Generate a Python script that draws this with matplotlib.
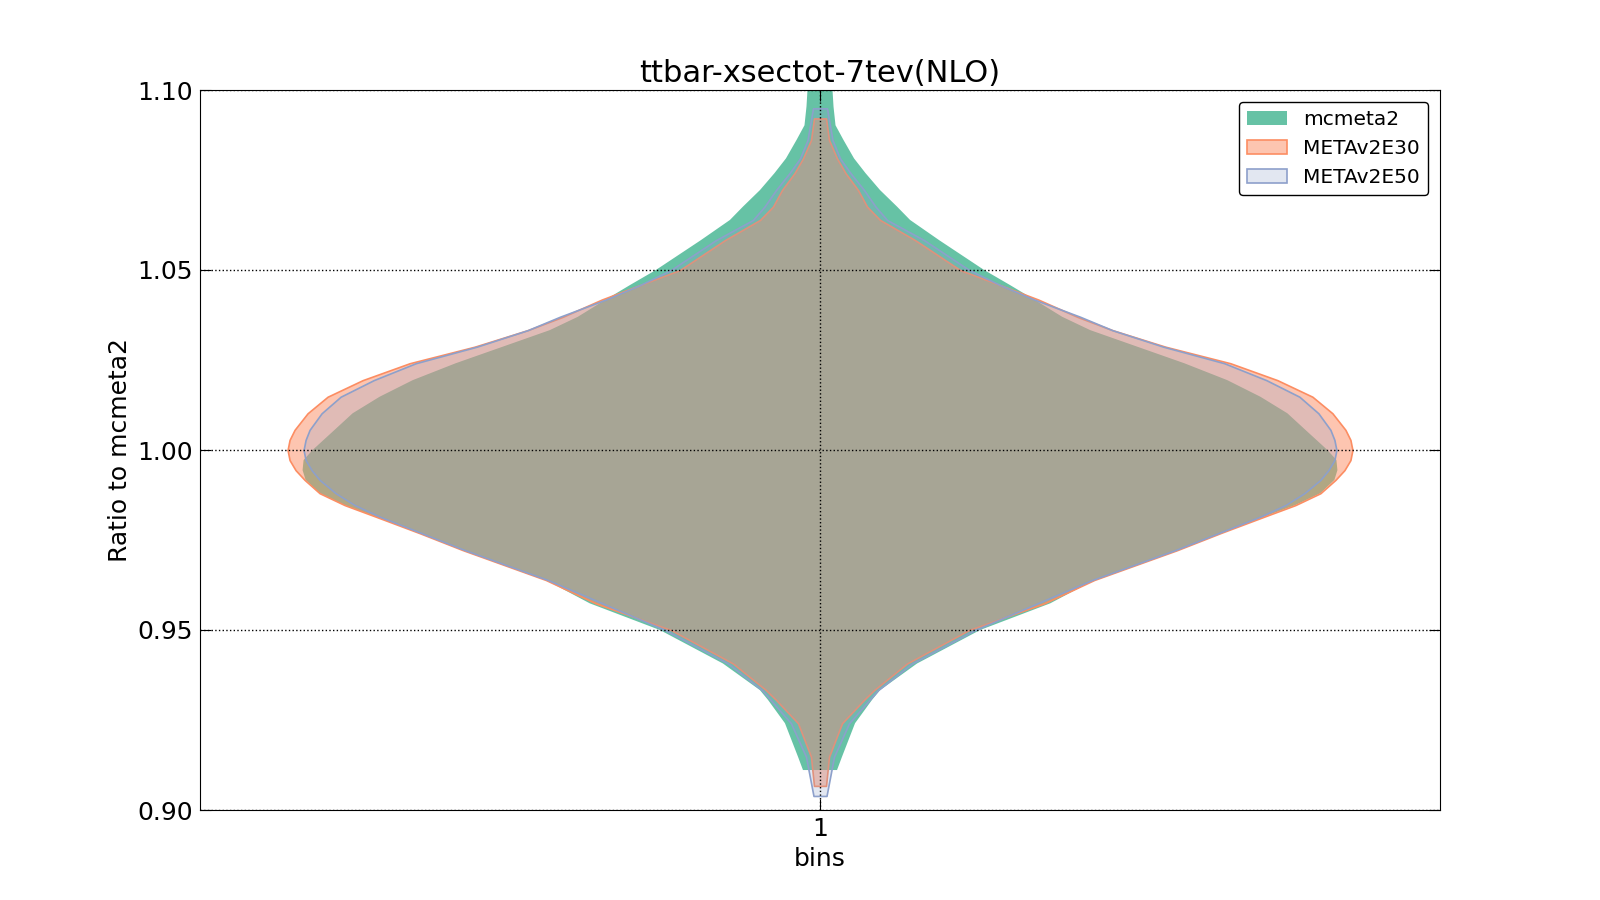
import numpy as np
import matplotlib
matplotlib.use('Agg')
import matplotlib.pyplot as plt
from matplotlib.colors import to_rgba

# violin profiles: y value and relative density
labels = ['mcmeta2', 'METAv2E30', 'METAv2E50']
colors = ['#66c2a5', '#fc8d62', '#8da0cb']

green_y = [0.9111, 0.9148, 0.9241, 0.9306, 0.9333, 0.9407, 0.95, 0.9574, 0.9639, 0.9722,
           0.9769, 0.9815, 0.9847, 0.988, 0.9917, 0.9944, 0.9972, 1.0, 1.0056, 1.0102,
           1.0148, 1.0194, 1.0241, 1.0287, 1.0333, 1.037, 1.0418, 1.0458, 1.05, 1.0583,
           1.0639, 1.0676, 1.0722, 1.0769, 1.081, 1.0861, 1.0902, 1.0954, 1.10, 1.112]
green_d = [17, 22, 35, 52, 60, 97, 160, 230, 274, 357,
           400, 444, 475, 500, 514, 517, 516, 507, 485, 467,
           440, 407, 364, 317, 270, 242, 214, 190, 164, 119,
           90, 77, 60, 45.5, 34, 23.5, 15.5, 13.5, 12.5, 10]

orange_y = [0.9067, 0.9148, 0.9241, 0.9306, 0.9333, 0.9407, 0.95, 0.9574, 0.9639, 0.9722,
            0.9769, 0.9815, 0.9847, 0.988, 0.9917, 0.9944, 0.9972, 1.0, 1.0028, 1.0056,
            1.0102, 1.0148, 1.0194, 1.0241, 1.0287, 1.0333, 1.037, 1.0418, 1.0458, 1.05,
            1.0583, 1.0639, 1.0676, 1.0722, 1.0769, 1.081, 1.0861, 1.0921]
orange_d = [6, 9, 22, 44, 54, 87, 149, 224, 274, 357,
            400, 444, 475, 500, 515, 524, 530, 532, 530, 525,
            512, 492, 457, 410, 345, 292, 257, 218, 180, 140,
            95, 60, 47, 38, 25.5, 17, 9, 6]

blue_y = [0.9039, 0.9148, 0.9241, 0.9333, 0.9407, 0.95, 0.9639, 0.9722, 0.9769, 0.9815,
          0.9847, 0.988, 0.9917, 0.9944, 0.9972, 1.0, 1.0028, 1.0056, 1.0102, 1.0148,
          1.0194, 1.0241, 1.0287, 1.0333, 1.037, 1.0418, 1.0458, 1.05, 1.0583, 1.0639,
          1.0676, 1.0722, 1.0769, 1.081, 1.0861, 1.0949]
blue_d = [6.5, 14, 29, 58, 92, 155, 272, 355, 398, 440,
          465, 484, 500, 508, 514, 516, 514, 510, 498, 479,
          446, 404, 343, 292, 260, 214, 180, 149, 104, 67,
          55.5, 44, 30.5, 20, 12.5, 7]

profiles = [(green_y, green_d), (orange_y, orange_d), (blue_y, blue_d)]
alphas = [1.0, 0.5, 0.25]
edges = [False, True, True]

SCALE = 1.0 / 1239  # density units -> x data units (half width)

fig, ax = plt.subplots(figsize=(16, 9), dpi=100)
fig.subplots_adjust(left=0.125, right=0.9, top=0.9, bottom=0.1)

handles = []
for (yy, dd), c, a, e in zip(profiles, colors, alphas, edges):
    yy = np.array(yy)
    dd = np.array(dd, dtype=float)
    stats = [{'coords': yy, 'vals': dd, 'mean': np.nan, 'median': np.nan,
              'min': yy.min(), 'max': yy.max()}]
    parts = ax.violin(stats, positions=[1], widths=[2 * dd.max() * SCALE],
                      showextrema=False)
    body = parts['bodies'][0]
    body.set_alpha(None)
    body.set_facecolor(to_rgba(c, a))
    if e:
        body.set_edgecolor(c)
        body.set_linewidth(1.2)
    else:
        body.set_edgecolor('none')
    handles.append(body)

ax.set_xlim(0.5, 1.5)
ax.set_ylim(0.90, 1.10)
ax.set_xticks([1])
ax.set_xticklabels(['1'])
ax.set_yticks(np.arange(0.90, 1.101, 0.05))
ax.yaxis.set_major_formatter(matplotlib.ticker.FormatStrFormatter('%.2f'))
ax.tick_params(direction='in', top=True, right=True, length=8, labelsize=18, pad=5)
ax.grid(True, color='black', linestyle=':', linewidth=1)
ax.set_axisbelow(False)

ax.set_title('ttbar-xsectot-7tev(NLO)', fontsize=22)
ax.set_xlabel('bins', fontsize=18)
ax.set_ylabel('Ratio to mcmeta2', fontsize=18)

leg = ax.legend(handles, labels, loc='upper right', fontsize=14.5, fancybox=True,
                framealpha=1, borderaxespad=0.6)
leg.get_frame().set_edgecolor('black')

plt.savefig('out.png')
